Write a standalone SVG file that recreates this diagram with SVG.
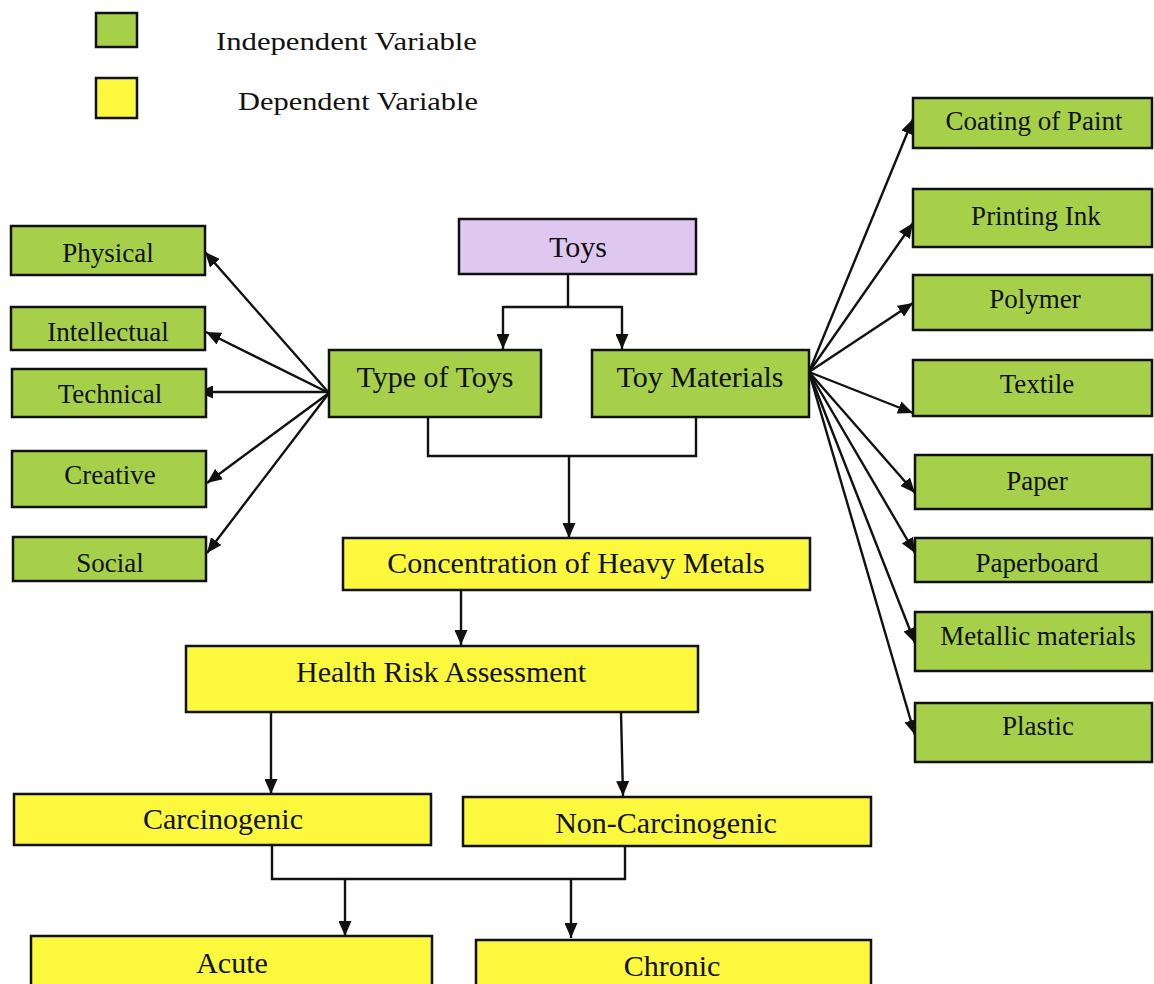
<svg xmlns="http://www.w3.org/2000/svg" width="1154" height="984" viewBox="0 0 1154 984">
<style>
.g{fill:#a6d04a;stroke:#111;stroke-width:2.5}
.y{fill:#fbf83e;stroke:#111;stroke-width:2.5}
.p{fill:#dfc8f0;stroke:#111;stroke-width:2.5}
text{font-family:"Liberation Serif","Times New Roman",serif;fill:#111;text-anchor:middle}
.s27{font-size:27px}
.s30{font-size:30px}
.leg{font-size:25px;text-anchor:start}
.c line,.c polyline{stroke:#111;stroke-width:2.4;fill:none}
.a{marker-end:url(#ah)}
</style>
<defs>
<marker id="ah" markerUnits="userSpaceOnUse" markerWidth="15" markerHeight="13" viewBox="0 0 15 13" refX="15" refY="6.5" orient="auto">
<path d="M0,0 L15,6.5 L0,13 z" fill="#111"/>
</marker>
</defs>
<rect width="1154" height="984" fill="#fff"/>
<g id="legend">
<rect x="96" y="13" width="41" height="34" class="g"/>
<text x="216" y="50" class="leg" textLength="261" lengthAdjust="spacingAndGlyphs">Independent Variable</text>
<rect x="96" y="78" width="41" height="40" class="y"/>
<text x="238" y="110" class="leg" textLength="240" lengthAdjust="spacingAndGlyphs">Dependent Variable</text>
</g>
<g class="c" id="connectors">
<line x1="568" y1="274" x2="568" y2="307"/>
<polyline points="503,307 622,307"/>
<line x1="503" y1="306" x2="503" y2="349" class="a"/>
<line x1="622" y1="306" x2="622" y2="349" class="a"/>
<polyline points="428,417 428,456 696,456 696,417"/>
<line x1="569" y1="456" x2="569" y2="538" class="a"/>
<line x1="461" y1="591" x2="461" y2="645" class="a"/>
<line x1="271" y1="712" x2="271" y2="794" class="a"/>
<line x1="621" y1="712" x2="623" y2="796" class="a"/>
<polyline points="272,845 272,879 625,879 625,846"/>
<line x1="345" y1="879" x2="345" y2="936" class="a"/>
<line x1="571" y1="879" x2="571" y2="938" class="a"/>
<line x1="329" y1="393" x2="205" y2="252" class="a"/>
<line x1="329" y1="393" x2="206" y2="332" class="a"/>
<line x1="329" y1="392" x2="198" y2="392" class="a"/>
<line x1="329" y1="393" x2="207" y2="483" class="a"/>
<line x1="329" y1="393" x2="207" y2="553" class="a"/>
<line x1="809" y1="372" x2="913" y2="119" class="a"/>
<line x1="809" y1="372" x2="913" y2="223" class="a"/>
<line x1="809" y1="372" x2="913" y2="303" class="a"/>
<line x1="809" y1="372" x2="913" y2="413" class="a"/>
<line x1="809" y1="372" x2="915" y2="493" class="a"/>
<line x1="809" y1="372" x2="915" y2="553" class="a"/>
<line x1="809" y1="372" x2="915" y2="643" class="a"/>
<line x1="809" y1="372" x2="915" y2="735" class="a"/>
</g>
<g id="toys"><rect x="459" y="219" width="237" height="55" class="p"/><text x="578" y="257" class="s30">Toys</text></g>
<g id="type-of-toys"><rect x="329" y="350" width="212" height="67" class="g"/><text x="435" y="387" class="s30">Type of Toys</text></g>
<g id="toy-materials"><rect x="592" y="350" width="217" height="67" class="g"/><text x="700" y="387" class="s30">Toy Materials</text></g>
<g id="physical"><rect x="11" y="226" width="194" height="49" class="g"/><text x="108" y="262" class="s27">Physical</text></g>
<g id="intellectual"><rect x="11" y="307" width="194" height="43" class="g"/><text x="108" y="341" class="s27">Intellectual</text></g>
<g id="technical"><rect x="12" y="369" width="194" height="48" class="g"/><text x="110" y="403" class="s27">Technical</text></g>
<g id="creative"><rect x="12" y="451" width="194" height="56" class="g"/><text x="110" y="484" class="s27">Creative</text></g>
<g id="social"><rect x="13" y="537" width="193" height="44" class="g"/><text x="110" y="572" class="s27">Social</text></g>
<g id="coating"><rect x="913" y="98" width="239" height="50" class="g"/><text x="1034" y="130" class="s27">Coating of Paint</text></g>
<g id="printing-ink"><rect x="913" y="189" width="239" height="58" class="g"/><text x="1036" y="225" class="s27">Printing Ink</text></g>
<g id="polymer"><rect x="913" y="275" width="239" height="55" class="g"/><text x="1035" y="308" class="s27">Polymer</text></g>
<g id="textile"><rect x="913" y="360" width="239" height="56" class="g"/><text x="1037" y="393" class="s27">Textile</text></g>
<g id="paper"><rect x="915" y="455" width="237" height="54" class="g"/><text x="1037" y="490" class="s27">Paper</text></g>
<g id="paperboard"><rect x="915" y="538" width="237" height="44" class="g"/><text x="1037" y="572" class="s27">Paperboard</text></g>
<g id="metallic"><rect x="915" y="612" width="237" height="59" class="g"/><text x="1038" y="645" class="s27">Metallic materials</text></g>
<g id="plastic"><rect x="915" y="703" width="237" height="59" class="g"/><text x="1038" y="735" class="s27">Plastic</text></g>
<g id="concentration"><rect x="343" y="538" width="467" height="52" class="y"/><text x="576" y="573" class="s30">Concentration of Heavy Metals</text></g>
<g id="health-risk"><rect x="186" y="646" width="512" height="66" class="y"/><text x="441" y="682" class="s30">Health Risk Assessment</text></g>
<g id="carcinogenic"><rect x="14" y="794" width="417" height="51" class="y"/><text x="223" y="829" class="s30">Carcinogenic</text></g>
<g id="non-carcinogenic"><rect x="463" y="797" width="408" height="49" class="y"/><text x="666" y="833" class="s30">Non-Carcinogenic</text></g>
<g id="acute"><rect x="31" y="936" width="401" height="60" class="y"/><text x="232" y="973" class="s30">Acute</text></g>
<g id="chronic"><rect x="476" y="940" width="395" height="60" class="y"/><text x="672" y="976" class="s30">Chronic</text></g>
</svg>
